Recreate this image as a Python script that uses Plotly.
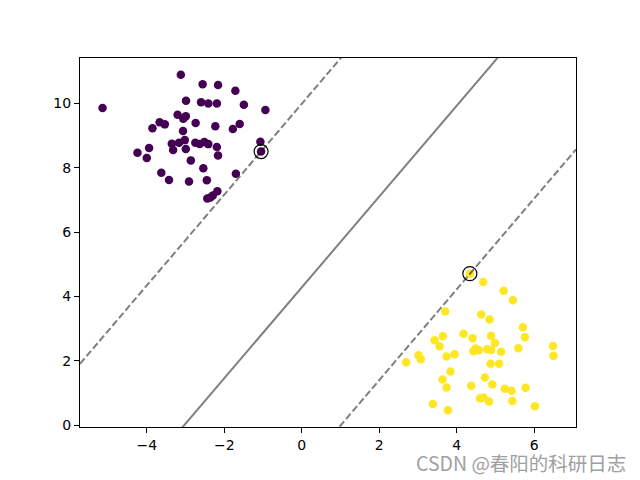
import numpy as np
import plotly.graph_objects as go

# class 0 points (purple)
x0 = [-5.142, -3.121, -2.558, -2.160, -1.713, -2.987, -2.599, -2.411, -2.191, -1.494,
      -0.938, -3.204, -2.992, -3.057, -2.739, -2.230, -1.602, -1.778, -3.669, -3.535,
      -3.853, -3.065, -1.067, -1.049, -3.354, -3.168, -3.018, -3.320, -2.992, -2.747,
      -2.636, -2.514, -2.411, -2.191, -3.941, -4.240, -4.000, -2.160, -2.863, -2.540,
      -3.625, -3.426, -2.910, -2.450, -1.700, -2.178, -2.295, -2.437, -2.359]
y0 = [9.851, 10.883, 10.589, 10.567, 10.387, 10.077, 10.031, 9.994, 9.994, 9.954,
      9.789, 9.644, 9.597, 9.520, 9.387, 9.287, 9.356, 9.201, 9.411, 9.343,
      9.226, 9.139, 8.807, 8.498, 8.745, 8.776, 8.854, 8.550, 8.575, 8.776,
      8.736, 8.792, 8.730, 8.637, 8.612, 8.460, 8.302, 8.374, 8.225, 7.980,
      7.838, 7.615, 7.568, 7.605, 7.807, 7.268, 7.134, 7.042, 7.073]

# class 1 points (yellow)
x1 = [4.341, 4.687, 5.212, 5.452, 3.705, 4.636, 4.850, 5.711, 5.762, 4.178,
      3.643, 3.429, 3.558, 4.411, 4.889, 4.987, 4.429, 4.488, 4.574, 4.791,
      4.889, 5.147, 5.592, 6.486, 6.499, 3.739, 3.946, 3.016, 3.075, 2.698,
      4.876, 5.096, 3.842, 3.636, 3.739, 4.729, 4.922, 4.377, 5.243, 5.419,
      5.780, 4.605, 4.695, 4.837, 5.439, 6.021, 3.385, 3.773]
y1 = [4.709, 4.449, 4.176, 3.882, 3.532, 3.439, 3.287, 3.045, 2.735, 2.844,
      2.766, 2.643, 2.457, 2.704, 2.782, 2.556, 2.302, 2.385, 2.333, 2.364,
      2.339, 2.280, 2.395, 2.463, 2.156, 2.138, 2.209, 2.178, 2.054, 1.961,
      1.914, 1.914, 1.667, 1.425, 1.171, 1.481, 1.270, 1.227, 1.134, 1.072,
      1.165, 0.836, 0.861, 0.737, 0.753, 0.589, 0.660, 0.468]

# support vectors
sv_x = [-1.049, 4.341]
sv_y = [8.498, 4.709]

# decision boundary and margins: y = slope * x + intercept
slope = 1.41
intercepts = [9.98, 4.28, -1.42]
dashes = ['7px,3px', 'solid', '7px,3px']

all_x = x0 + x1
all_y = y0 + y1
xpad = 0.05 * (max(all_x) - min(all_x))
ypad = 0.05 * (max(all_y) - min(all_y))
xr = [min(all_x) - xpad, max(all_x) + xpad]
yr = [min(all_y) - ypad, max(all_y) + ypad]

fig = go.Figure()

fig.add_trace(go.Scatter(x=x0, y=y0, mode='markers',
                         marker=dict(color='#440154', size=8.5, line=dict(width=0))))
fig.add_trace(go.Scatter(x=x1, y=y1, mode='markers',
                         marker=dict(color='#fde725', size=8.5, line=dict(width=0))))

lx = np.array(xr)
for b, d in zip(intercepts, dashes):
    fig.add_trace(go.Scatter(x=lx, y=slope * lx + b, mode='lines',
                             line=dict(color='rgba(0,0,0,0.5)', width=2, dash=d)))

fig.add_trace(go.Scatter(x=sv_x, y=sv_y, mode='markers',
                         marker=dict(size=14, color='rgba(0,0,0,0)',
                                     line=dict(color='black', width=1.2))))

axis_style = dict(showgrid=False, zeroline=False, showline=True, linecolor='black',
                  linewidth=1, mirror=True, ticks='outside', ticklen=5, tickwidth=1,
                  tickcolor='black', dtick=2, tickfont=dict(color='black', size=14))

# page body has an 8px margin, so the figure is 8px smaller and margins shifted
fig.update_layout(
    width=632, height=472,
    plot_bgcolor='white', paper_bgcolor='white',
    font=dict(family='DejaVu Sans', color='black', size=14),
    showlegend=False,
    margin=dict(l=72, r=64, t=50, b=53),
    xaxis=dict(range=xr, **axis_style),
    yaxis=dict(range=yr, **axis_style),
    annotations=[dict(text='CSDN @春阳的科研日志', xref='paper', yref='paper',
                      x=1.105, y=-0.097, xanchor='right', yanchor='middle',
                      showarrow=False,
                      font=dict(family='Noto Sans CJK SC', size=19.5, color='#a0a0a0'))]
)

fig.write_html("out.html")
